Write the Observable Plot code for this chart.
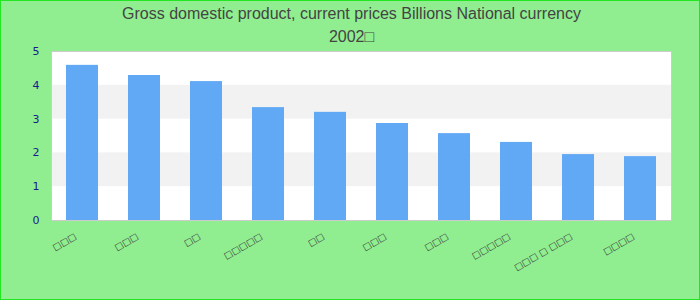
<!DOCTYPE html>
<html>
<head>
<meta charset="utf-8">
<script src="https://cdn.jsdelivr.net/npm/d3@7"></script>
<script src="https://cdn.jsdelivr.net/npm/@observablehq/plot@0.6"></script>
<style>
  body { margin: 0; background: #90ee90; }
  #chart svg { display: block; outline: 1px solid #22e622; outline-offset: -1px; }
</style>
</head>
<body>
<div id="chart"></div>
<script>
const title = "Gross domestic product, current prices Billions National currency";
const subtitle = "2002□";
const categories = ["□□□", "□□□", "□□", "□□□□□", "□□", "□□□", "□□□", "□□□□□", "□□□ □ □□□", "□□□□"];
const values = [4.59, 4.29, 4.11, 3.34, 3.20, 2.87, 2.57, 2.31, 1.95, 1.89];
const yTicks = [0, 1, 2, 3, 4, 5];
const shadedBands = [[1, 2], [3, 4]];

const data = categories.map((c, i) => ({key: i, label: c, value: values[i]}));
const bands = shadedBands.map(([a, b]) => ({y1: a, y2: b}));

const chart = Plot.plot({
  width: 700,
  height: 300,
  marginTop: 51,
  marginLeft: 51,
  marginRight: 29,
  marginBottom: 80,
  style: {background: "#90ee90", fontFamily: "'Liberation Sans', Arial, sans-serif"},
  x: {type: "band", domain: data.map(d => d.key), paddingInner: 0.48, paddingOuter: 0.24, align: 0.5, label: null},
  y: {domain: [0, 5], label: null},
  marks: [
    Plot.frame({fill: "white", stroke: null}),
    Plot.rect(bands, {y1: "y1", y2: "y2", fill: "#f2f2f2"}),
    Plot.barY(data, {x: "key", y: "value", fill: "#61a8f5"}),
    Plot.frame({stroke: "#cccccc", strokeWidth: 1}),
    Plot.axisY({ticks: yTicks, tickFormat: d3.format("d"), tickSize: 0, tickPadding: 12, fill: "#1a1a8c", fontSize: 11, fontFamily: "'DejaVu Sans', sans-serif"}),
    Plot.axisX({tickSize: 0, tickPadding: 6, tickRotate: -30, dx: -7, dy: 9, tickFormat: k => categories[k], fill: "#333", fontSize: 9, fontFamily: "'DejaVu Sans', sans-serif"}),
    Plot.text([title], {frameAnchor: "top", dx: -10, dy: -38, lineAnchor: "middle", fill: "#444", fontSize: 16}),
    Plot.text([subtitle], {frameAnchor: "top", dx: -10, dy: -15, lineAnchor: "middle", fill: "#444", fontSize: 16})
  ]
});
document.getElementById("chart").appendChild(chart);
</script>
</body>
</html>
